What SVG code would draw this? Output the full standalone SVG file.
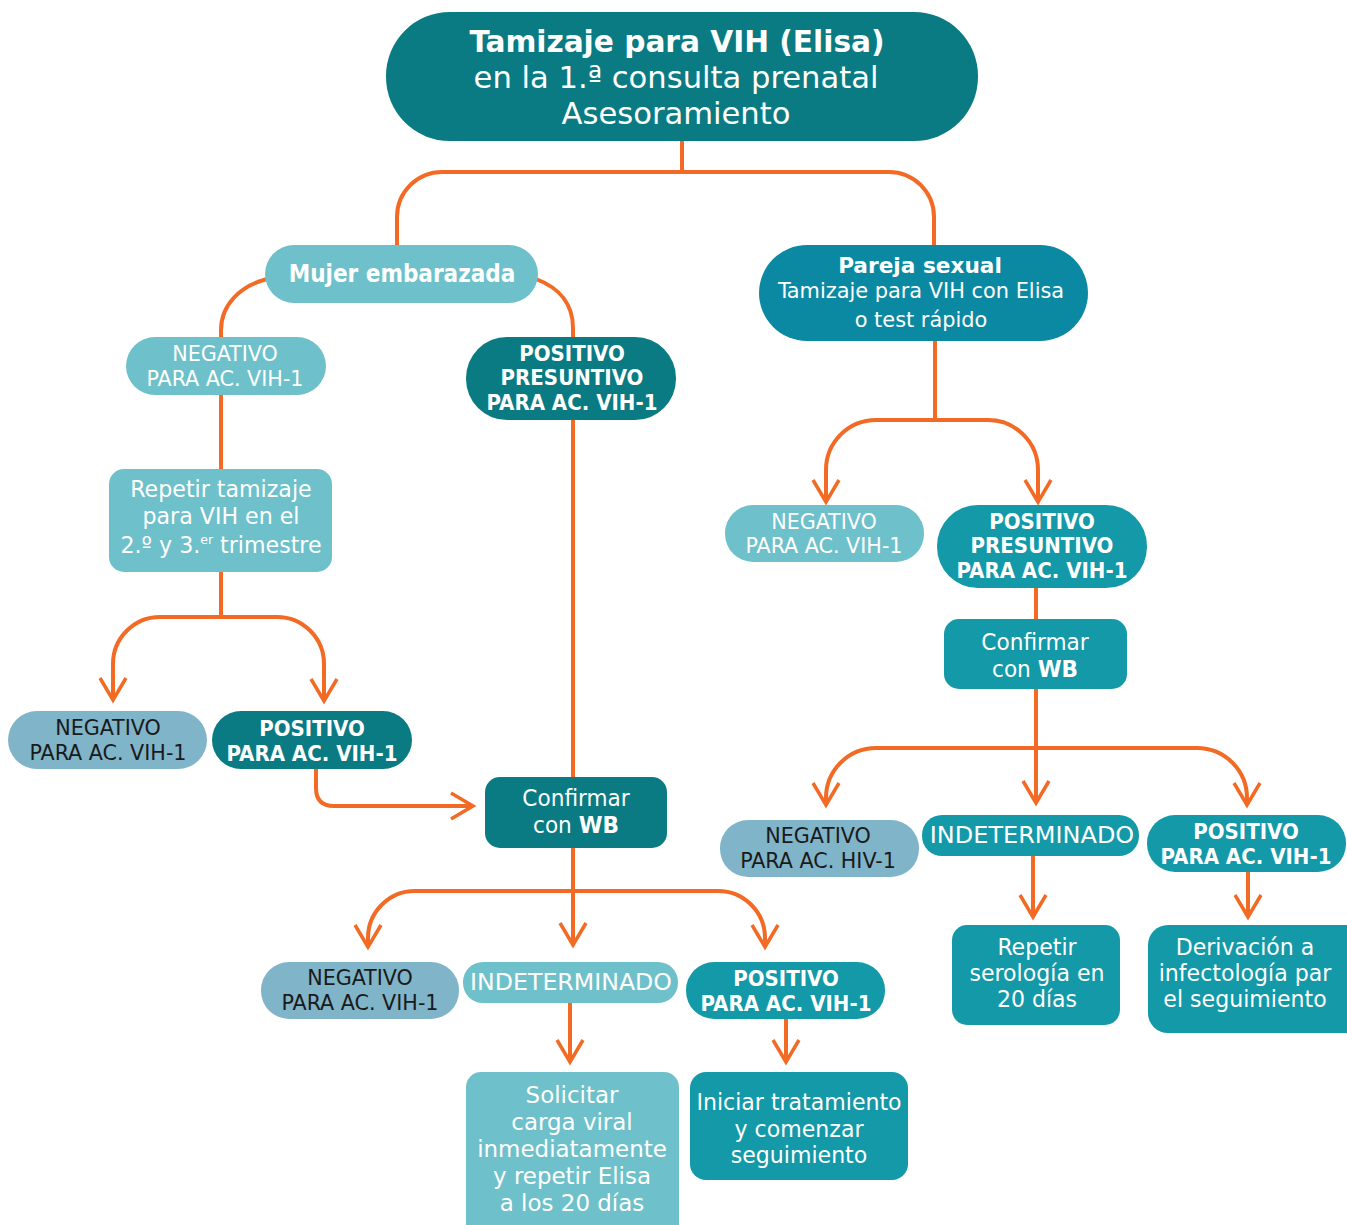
<svg xmlns="http://www.w3.org/2000/svg" width="1347" height="1225" viewBox="0 0 1347 1225">
<style>
text{font-family:"Liberation Sans Narrow","DejaVu Sans Condensed","Liberation Sans",sans-serif;text-anchor:middle;fill:#fff}
.b{font-weight:bold}
.dk{fill:#1a1a1a}
.c1{fill:#0A7B83}
.c2{fill:#0B89A3}
.c3{fill:#1399A8}
.c4{fill:#6EC1CA}
.c5{fill:#7FB4C9}
.neg text{font-size:21px}
.pos text{font-size:20.5px;font-weight:bold}
.con path{fill:none;stroke:#F26A24;stroke-width:4}
</style>
<defs>
<marker id="ar" viewBox="-24 -15 28 30" refX="0" refY="0" markerWidth="28" markerHeight="30" markerUnits="userSpaceOnUse" orient="auto">
<path d="M-22,-13 L0,0 L-22,13" fill="none" stroke="#F26A24" stroke-width="3.5"/>
</marker>
</defs>
<g class="con">
<path d="M682 141 V172"/>
<path d="M682 172 H442 A45 45 0 0 0 397 217 V245"/>
<path d="M682 172 H889 A45 45 0 0 1 934 217 V245"/>
<path d="M267 279 C240 286 221 305 221 330 V337"/>
<path d="M536 279 C560 288 573 305 573 328 V337"/>
<path d="M221 395 V469"/>
<path d="M221 572 V617"/>
<path d="M221 617 H160 A47 47 0 0 0 113 664 V700" marker-end="url(#ar)"/>
<path d="M221 617 H277 A47 47 0 0 1 324 664 V701" marker-end="url(#ar)"/>
<path d="M316 769 V788 Q316 806 334 806 H473" marker-end="url(#ar)"/>
<path d="M573 420 V777"/>
<path d="M573 848 V945" marker-end="url(#ar)"/>
<path d="M573 891 H415 A47 47 0 0 0 368 938 V947" marker-end="url(#ar)"/>
<path d="M573 891 H718 A47 47 0 0 1 765 938 V947" marker-end="url(#ar)"/>
<path d="M570 1003 V1062" marker-end="url(#ar)"/>
<path d="M786 1019 V1062" marker-end="url(#ar)"/>
<path d="M935 341 V420"/>
<path d="M935 420 H876 A50 50 0 0 0 826 470 V502" marker-end="url(#ar)"/>
<path d="M935 420 H988 A50 50 0 0 1 1038 470 V502" marker-end="url(#ar)"/>
<path d="M1036 588 V619"/>
<path d="M1036 689 V803" marker-end="url(#ar)"/>
<path d="M1036 748 H876 A50 50 0 0 0 826 798 V805" marker-end="url(#ar)"/>
<path d="M1036 748 H1197 A50 50 0 0 1 1247 798 V805" marker-end="url(#ar)"/>
<path d="M1033 856 V917" marker-end="url(#ar)"/>
<path d="M1248 872 V917" marker-end="url(#ar)"/>
</g>
<g id="n-titulo">
<rect class="c1" x="386" y="12" width="592" height="129" rx="64"/>
<g transform="translate(677 0) scale(1.08 1)">
<text x="0" y="52" font-size="30.5" class="b">Tamizaje para VIH (Elisa)</text>
</g>
<g transform="translate(676 0) scale(1.115 1)">
<text x="0" y="88" font-size="30.5">en la 1.ª consulta prenatal</text>
<text x="0" y="124" font-size="30.5">Asesoramiento</text>
</g>
</g>
<g id="n-mujer">
<rect class="c4" x="265" y="245" width="273" height="58" rx="29"/>
<text x="402" y="282" font-size="24" class="b">Mujer embarazada</text>
</g>
<g id="n-neg1" class="neg">
<rect class="c4" x="126" y="337" width="200" height="58" rx="29"/>
<g transform="translate(225 0) scale(1.095 1)">
<text x="0" y="361">NEGATIVO</text>
<text x="0" y="386">PARA AC. VIH-1</text>
</g>
</g>
<g id="n-pospres1" class="pos">
<rect class="c1" x="466" y="337" width="210" height="83" rx="41"/>
<g transform="translate(572 0) scale(1.075 1)">
<text x="0" y="361">POSITIVO</text>
<text x="0" y="385">PRESUNTIVO</text>
<text x="0" y="410">PARA AC. VIH-1</text>
</g>
</g>
<g id="n-repetir">
<rect class="c4" x="109" y="469" width="223" height="103" rx="15"/>
<g transform="translate(221 0) scale(1.07 1)">
<text x="0" y="497" font-size="23">Repetir tamizaje</text>
<text x="0" y="524" font-size="23">para VIH en el</text>
<text x="0" y="553" font-size="23">2.º y 3.<tspan font-size="13" dy="-9">er</tspan><tspan dy="9"> trimestre</tspan></text>
</g>
</g>
<g id="n-neg2" class="neg">
<rect class="c5" x="8" y="711" width="199" height="58" rx="29"/>
<g transform="translate(108 0) scale(1.095 1)">
<text x="0" y="735" class="dk">NEGATIVO</text>
<text x="0" y="760" class="dk">PARA AC. VIH-1</text>
</g>
</g>
<g id="n-pos2" class="pos">
<rect class="c1" x="212" y="711" width="200" height="58" rx="29"/>
<g transform="translate(312 0) scale(1.075 1)">
<text x="0" y="736">POSITIVO</text>
<text x="0" y="761">PARA AC. VIH-1</text>
</g>
</g>
<g id="n-confirmar1">
<rect class="c1" x="485" y="777" width="182" height="71" rx="15"/>
<g transform="translate(576 0) scale(1.045 1)">
<text x="0" y="806" font-size="23">Confirmar</text>
<text x="0" y="833" font-size="23">con <tspan class="b">WB</tspan></text>
</g>
</g>
<g id="n-neg3" class="neg">
<rect class="c5" x="261" y="962" width="198" height="57" rx="28"/>
<g transform="translate(360 0) scale(1.095 1)">
<text x="0" y="985" class="dk">NEGATIVO</text>
<text x="0" y="1010" class="dk">PARA AC. VIH-1</text>
</g>
</g>
<g id="n-indet1">
<rect class="c4" x="463" y="962" width="215" height="41" rx="20"/>
<g transform="translate(571 0) scale(1.17 1)">
<text x="0" y="990" font-size="22.5">INDETERMINADO</text>
</g>
</g>
<g id="n-pos3" class="pos">
<rect class="c3" x="686" y="962" width="199" height="57" rx="28"/>
<g transform="translate(786 0) scale(1.075 1)">
<text x="0" y="986">POSITIVO</text>
<text x="0" y="1011">PARA AC. VIH-1</text>
</g>
</g>
<g id="n-solicitar">
<rect class="c4" x="466" y="1072" width="213" height="170" rx="15"/>
<g transform="translate(572 0) scale(1.11 1)">
<text x="0" y="1103" font-size="23">Solicitar</text>
<text x="0" y="1130" font-size="23">carga viral</text>
<text x="0" y="1157" font-size="23">inmediatamente</text>
<text x="0" y="1184" font-size="23">y repetir Elisa</text>
<text x="0" y="1211" font-size="23">a los 20 días</text>
</g>
</g>
<g id="n-iniciar">
<rect class="c3" x="690" y="1072" width="218" height="108" rx="16"/>
<g transform="translate(799 0) scale(1.1 1)">
<text x="0" y="1110" font-size="22.3">Iniciar tratamiento</text>
<text x="0" y="1137" font-size="22.3">y comenzar</text>
<text x="0" y="1163" font-size="22.3">seguimiento</text>
</g>
</g>
<g id="n-pareja">
<rect class="c2" x="759" y="245" width="329" height="96" rx="48"/>
<g transform="translate(920 0) scale(1.12 1)">
<text x="0" y="273" font-size="21.5" class="b">Pareja sexual</text>
</g>
<g transform="translate(921 0) scale(1.08 1)">
<text x="0" y="298" font-size="21.5">Tamizaje para VIH con Elisa</text>
<text x="0" y="327" font-size="21.5">o test rápido</text>
</g>
</g>
<g id="n-neg4" class="neg">
<rect class="c4" x="725" y="505" width="199" height="57" rx="28"/>
<g transform="translate(824 0) scale(1.095 1)">
<text x="0" y="529">NEGATIVO</text>
<text x="0" y="553">PARA AC. VIH-1</text>
</g>
</g>
<g id="n-pospres2" class="pos">
<rect class="c3" x="937" y="505" width="210" height="83" rx="41"/>
<g transform="translate(1042 0) scale(1.075 1)">
<text x="0" y="529">POSITIVO</text>
<text x="0" y="553">PRESUNTIVO</text>
<text x="0" y="578">PARA AC. VIH-1</text>
</g>
</g>
<g id="n-confirmar2">
<rect class="c3" x="944" y="619" width="183" height="70" rx="15"/>
<g transform="translate(1035 0) scale(1.045 1)">
<text x="0" y="650" font-size="23">Confirmar</text>
<text x="0" y="677" font-size="23">con <tspan class="b">WB</tspan></text>
</g>
</g>
<g id="n-neg5" class="neg">
<rect class="c5" x="720" y="820" width="199" height="57" rx="28"/>
<g transform="translate(818 0) scale(1.095 1)">
<text x="0" y="843" class="dk">NEGATIVO</text>
<text x="0" y="868" class="dk">PARA AC. HIV-1</text>
</g>
</g>
<g id="n-indet2">
<rect class="c3" x="922" y="815" width="217" height="41" rx="20"/>
<g transform="translate(1032 0) scale(1.185 1)">
<text x="0" y="843" font-size="22.5">INDETERMINADO</text>
</g>
</g>
<g id="n-pos4" class="pos">
<rect class="c3" x="1147" y="815" width="199" height="57" rx="28"/>
<g transform="translate(1246 0) scale(1.075 1)">
<text x="0" y="839">POSITIVO</text>
<text x="0" y="864">PARA AC. VIH-1</text>
</g>
</g>
<g id="n-repetir2">
<rect class="c3" x="952" y="925" width="168" height="100" rx="15"/>
<g transform="translate(1037 0) scale(1.1 1)">
<text x="0" y="955" font-size="22.3">Repetir</text>
<text x="0" y="981" font-size="22.3">serología en</text>
<text x="0" y="1007" font-size="22.3">20 días</text>
</g>
</g>
<g id="n-derivacion">
<rect class="c3" x="1148" y="925" width="220" height="108" rx="20"/>
<g transform="translate(1245 0) scale(1.1 1)">
<text x="0" y="955" font-size="22.3">Derivación a</text>
<text x="0" y="981" font-size="22.3">infectología par</text>
<text x="0" y="1007" font-size="22.3">el seguimiento</text>
</g>
</g>
</svg>
